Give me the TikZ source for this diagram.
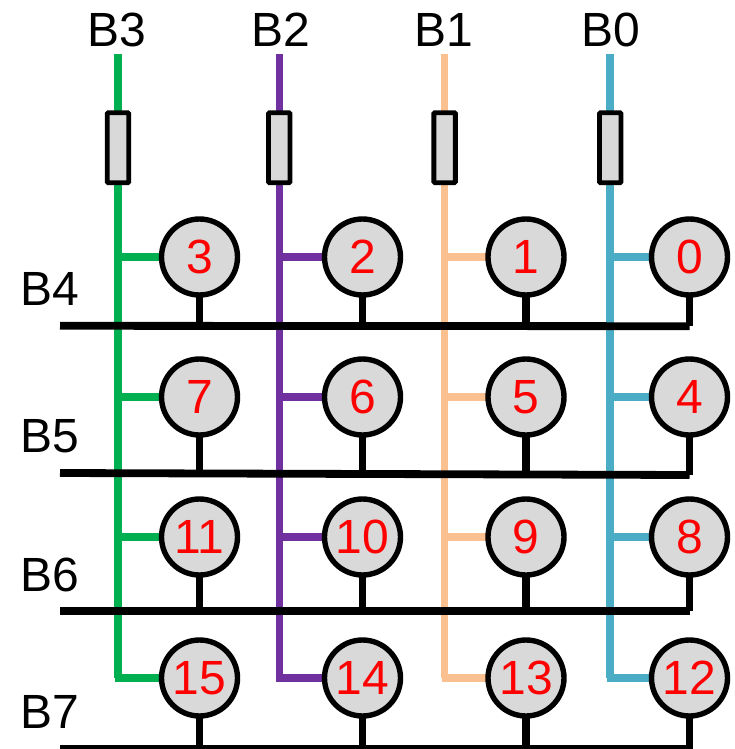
\documentclass[tikz,border=0pt]{standalone}
\usepackage{fontspec}
\setmainfont{Liberation Sans}
\definecolor{wgreen}{RGB}{0,176,80}
\definecolor{wpurple}{RGB}{112,48,160}
\definecolor{worange}{RGB}{250,192,144}
\definecolor{wblue}{RGB}{75,172,198}
\definecolor{wfill}{RGB}{217,217,217}
\tikzset{
  cell/.style={circle,draw=black,fill=wfill,line width=5.4pt,minimum size=76pt,inner sep=0pt,outer sep=0pt,text=red,font=\fontsize{48}{48}\selectfont},
  res/.style={rectangle,rounded corners=1pt,draw=black,fill=wfill,line width=4.8pt,minimum width=21.5pt,minimum height=70pt,inner sep=0pt,outer sep=0pt},
  wire/.style={line width=7.6pt},
  bus/.style={line width=7.8pt,draw=black},
  lbl/.style={inner sep=0pt,text=black,font=\fontsize{48}{48}\selectfont}
}
\begin{document}
\begin{tikzpicture}[x=1pt,y=-1pt]
\useasboundingbox (0,0) rectangle (735,749);
% labels
\node[lbl] (lB3) at (117,30) {B3};
\node[lbl] (lB2) at (281,30) {B2};
\node[lbl] (lB1) at (444,30) {B1};
\node[lbl] (lB0) at (611,30) {B0};
\node[lbl] (lB4) at (49.5,289) {B4};
\node[lbl] (lB5) at (49.5,436) {B5};
\node[lbl] (lB6) at (49.5,575) {B6};
\node[lbl] (lB7) at (49.5,712) {B7};
% column tops and bottoms
\foreach \n/\x in {3/118,2/279.3,1/444.6,0/610.2}{
  \coordinate (top\n) at (\x,54.5);
  \coordinate (end\n) at (\x,677.5);
}
\foreach \n/\col in {3/wgreen,2/wpurple,1/worange,0/wblue}{
  \draw[wire,draw=\col] (top\n) -- (end\n);
}
% branches from the columns to the cells
\foreach \num/\x/\y/\k/\col/\off in {
  3/199.5/257/3/wgreen/0,2/362.5/257/2/wpurple/0,1/526/257/1/worange/0,0/689.5/257/0/wblue/0,
  7/199.5/397/3/wgreen/0,6/362.5/397/2/wpurple/0,5/526/397/1/worange/0,4/689.5/397/0/wblue/0,
  11/199.5/537/3/wgreen/0,10/362.5/537/2/wpurple/0,9/526/537/1/worange/0,8/689.5/537/0/wblue/0,
  15/199.5/678/3/wgreen/-3,14/362.5/678/2/wpurple/-3,13/526/678/1/worange/-3,12/689.5/678/0/wblue/-3}{
  \coordinate (tap\num) at (\x,\y);
  \draw[wire,draw=\col] (tap\num) -- ([xshift=\off pt]top\k |- tap\num);
}
% buses
\foreach \b/\yl/\yr in {4/325.8/326.2,5/473/475,6/611/611,7/749/749}{
  \coordinate (busL\b) at (60,\yl);
  \coordinate (busR\b) at (689.5,\yr);
  \draw[bus] (busL\b) -- (busR\b);
}
% cell nodes and stems
\foreach \num/\x/\y/\b in {
  3/199.5/257/4,2/362.5/257/4,1/526/257/4,0/689.5/257/4,
  7/199.5/397/5,6/362.5/397/5,5/526/397/5,4/689.5/397/5,
  11/199.5/537/6,10/362.5/537/6,9/526/537/6,8/689.5/537/6,
  15/199.5/678/7,14/362.5/678/7,13/526/678/7,12/689.5/678/7}{
  \node[cell] (c\num) at (\x,\y) {\num};
  \draw[line width=7.4pt,draw=black] (c\num.south) -- (c\num.south |- busR\b);
}
% resistors
\node[res] (r3) at (118,147.7) {};
\node[res] (r2) at (279.3,147.7) {};
\node[res] (r1) at (444.6,147.7) {};
\node[res] (r0) at (610.2,147.7) {};
\end{tikzpicture}
\end{document}
